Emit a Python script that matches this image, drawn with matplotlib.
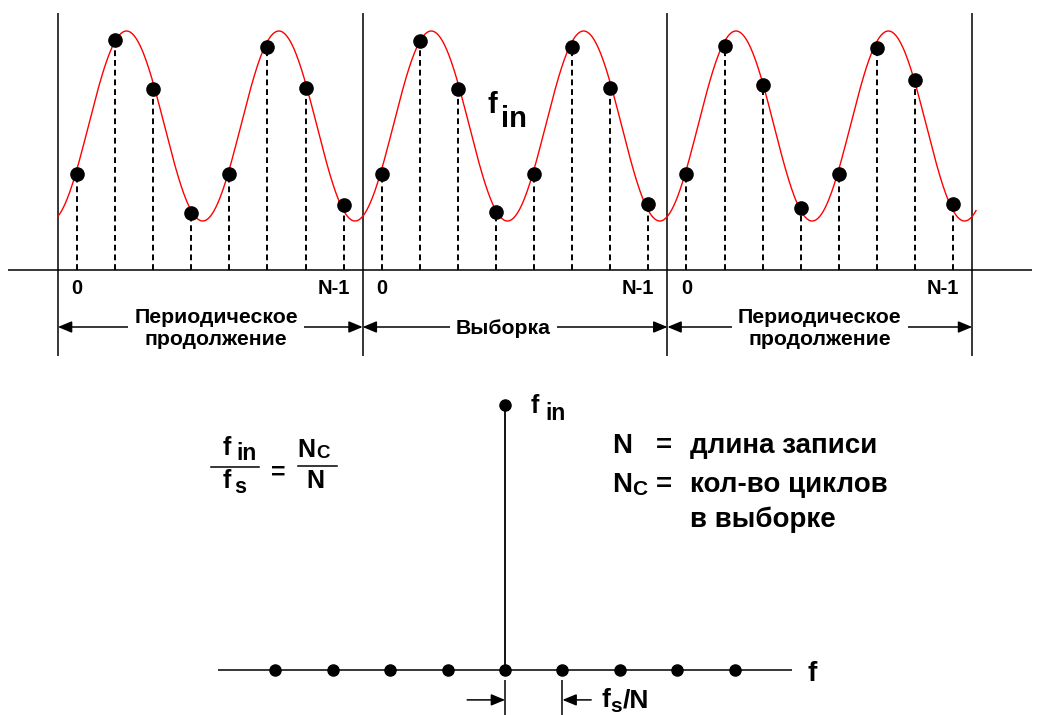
import numpy as np
import matplotlib
matplotlib.use("Agg")
import matplotlib.pyplot as plt

plt.rcParams['font.family'] = ['Liberation Sans', 'DejaVu Sans']
plt.rcParams['font.weight'] = 'bold'

# record length and number of f_in cycles in it
N = 8
Nc = 2
sample_idx = np.arange(N)

# sample heights (left extension, record, right extension)
left_ext = [0.96, 2.30, 1.81, 0.57, 0.96, 2.23, 1.82, 0.65]
record = [0.96, 2.29, 1.81, 0.58, 0.96, 2.23, 1.82, 0.66]
right_ext = [0.96, 2.24, 1.85, 0.62, 0.96, 2.22, 1.90, 0.66]
segments = [left_ext, record, right_ext]
seg_offsets = [-N, 0, N]
seg_labels = ['Периодическое\nпродолжение', 'Выборка', 'Периодическое\nпродолжение']
seg_label_x = [-4.35, 3.2, 11.5]

# the f_in sine wave
sig_offset = 1.44
sig_amp = 0.95
sig_peak = 1.3  # sample position of the first peak

# spectrum: bins around f_in, spaced fs/N
bins = np.arange(-4, 5)
spectrum = np.array([0, 0, 0, 0, 1, 0, 0, 0, 0])

fig = plt.figure(figsize=(10.4, 7.15), dpi=100)

# ---- time domain ----
ax1 = fig.add_axes([0, 355 / 715, 1, 360 / 715])
ax1.set_xlim(-10.02, 17.28)
ax1.set_ylim(-0.9, 2.7)
ax1.axis('off')

ax1.hlines(0, -9.8, 17.07, color='k', lw=1.1)
bounds = [off - 0.5 for off in seg_offsets] + [seg_offsets[-1] + N - 0.5]
ax1.vlines(bounds, -0.86, 2.57, color='k', lw=1.1)

t = np.linspace(bounds[0], bounds[-1] + 0.1, 1000)
ax1.plot(t, sig_offset + sig_amp * np.cos(2 * np.pi * Nc * (t - sig_peak) / N),
         color='#ff0000', lw=1.0)

for off, vals, lab, lx in zip(seg_offsets, segments, seg_labels, seg_label_x):
    x = off + sample_idx
    ax1.vlines(x, 0, vals, color='k', lw=1.4, linestyles=(0, (3, 2)))
    ax1.plot(x, vals, 'o', color='k', ms=9.5)
    ax1.text(off, -0.18, '0', ha='center', va='center', fontsize=14.5)
    ax1.text(off + N - 1 - 0.27, -0.18, 'N-1', ha='center', va='center', fontsize=14.5)
    ax1.annotate('', xy=(off - 0.5, -0.57), xytext=(off + N - 0.5, -0.57),
                 arrowprops=dict(arrowstyle='<|-|>,head_length=0.6,head_width=0.25',
                                 mutation_scale=14, lw=1.1, color='k',
                                 shrinkA=0, shrinkB=0))
    ax1.text(lx, -0.585, lab, ha='center', va='center', fontsize=15.3,
             linespacing=1.15,
             bbox=dict(boxstyle='square,pad=0.3', fc='white', ec='none'))

# ---- frequency domain ----
ax2 = fig.add_axes([0, 0, 1, 355 / 715])
ax2.set_xlim(-8.80, 9.32)
ax2.set_ylim(-0.17, 1.17)
ax2.axis('off')

ax2.hlines(0, bins[0] - 1, bins[-1] + 1, color='k', lw=1.1)
lines = spectrum > 0
ax2.vlines(bins[lines], 0, spectrum[lines], color='k', lw=1.3)
ax2.plot(bins, np.zeros(len(bins)), 'o', color='k', ms=8)
ax2.plot(bins[lines], spectrum[lines], 'o', color='k', ms=8)

# fs/N spacing marker
ax2.vlines([0, 1], -0.2, -0.038, color='k', lw=1.1)
arrow = dict(arrowstyle='-|>,head_length=0.6,head_width=0.25', mutation_scale=14,
             lw=1.1, color='k', shrinkA=0, shrinkB=0)
ax2.annotate('', xy=(0, -0.113), xytext=(-0.66, -0.113), arrowprops=arrow)
ax2.annotate('', xy=(1, -0.113), xytext=(1.5, -0.113), arrowprops=arrow)

# ---- text overlay in pixel units ----
ov = fig.add_axes([0, 0, 1, 1])
ov.set_xlim(0, 1040)
ov.set_ylim(715, 0)
ov.axis('off')
ov.patch.set_alpha(0)

def txt(x, y, s, size):
    ov.text(x, y, s, fontsize=size, ha='left', va='baseline')

# f_in labels
txt(487, 113, 'f', 21)
txt(501, 127, 'in', 21)
txt(531, 413, 'f', 18)
txt(545, 420, 'in', 16.5)

# axis label and fs/N
txt(807, 681, 'f', 20)
txt(601, 707, 'f', 19)
txt(610, 712, 's', 15)
txt(623, 707, '/N', 19)

# fin/fs = Nc/N
txt(223, 455, 'f', 18)
txt(236, 460, 'in', 16.5)
ov.plot([211, 259], [467, 467], color='k', lw=1.1)
txt(223, 488, 'f', 18)
txt(234, 493, 's', 15.5)
txt(271, 480, '=', 18)
txt(297, 457, 'N', 18)
txt(316, 458, 'C', 13.5)
ov.plot([298, 337], [466, 466], color='k', lw=1.1)
txt(306, 488, 'N', 18)

# legend
txt(612, 453, 'N', 20)
txt(656, 453, '=', 20)
txt(690, 453, 'длина записи', 20)
txt(612, 492, 'N', 20)
txt(632, 495, 'C', 15)
txt(656, 492, '=', 20)
txt(690, 492, 'кол-во циклов', 20)
txt(690, 527, 'в выборке', 20)

fig.savefig('out.png', dpi=100)
